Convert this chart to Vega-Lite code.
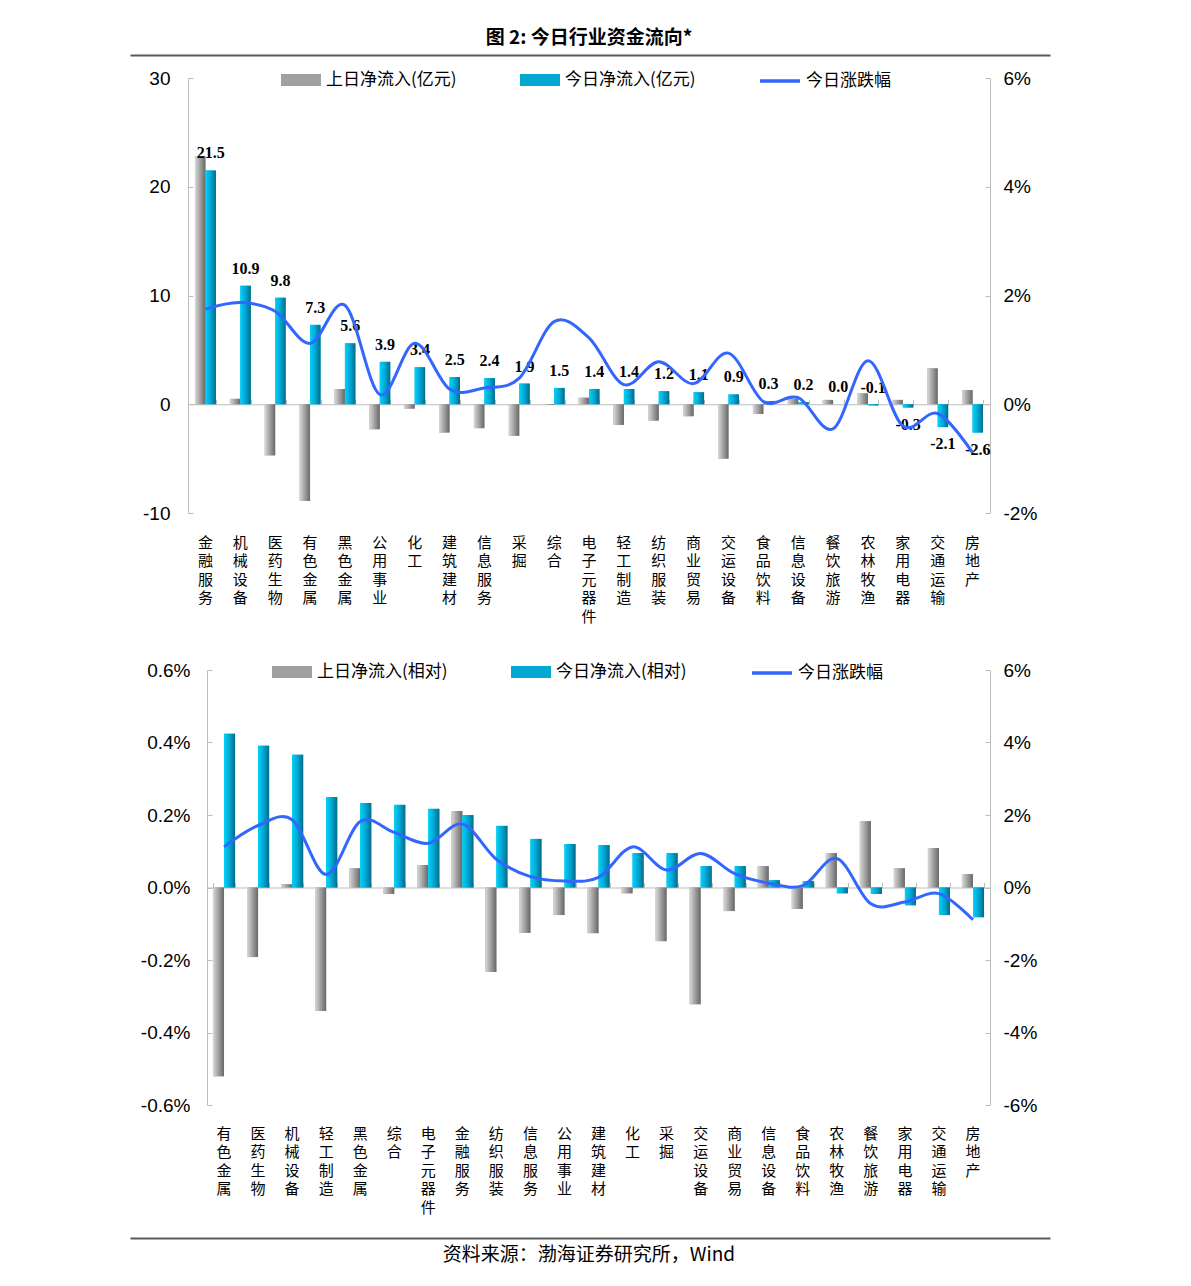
{
  "$schema": "https://vega.github.io/schema/vega-lite/v6.json",
  "background": "white",
  "padding": {"left": 130, "top": 29, "right": 10, "bottom": 10},
  "datasets": {
    "top": [
      {"行业": "金融服务", "上日净流入(亿元)": 22.8, "今日净流入(亿元)": 21.5, "今日涨跌幅": 1.75},
      {"行业": "机械设备", "上日净流入(亿元)": 0.5, "今日净流入(亿元)": 10.9, "今日涨跌幅": 1.87},
      {"行业": "医药生物", "上日净流入(亿元)": -4.7, "今日净流入(亿元)": 9.8, "今日涨跌幅": 1.71},
      {"行业": "有色金属", "上日净流入(亿元)": -8.9, "今日净流入(亿元)": 7.3, "今日涨跌幅": 1.12},
      {"行业": "黑色金属", "上日净流入(亿元)": 1.4, "今日净流入(亿元)": 5.6, "今日涨跌幅": 1.82},
      {"行业": "公用事业", "上日净流入(亿元)": -2.3, "今日净流入(亿元)": 3.9, "今日涨跌幅": 0.18},
      {"行业": "化工", "上日净流入(亿元)": -0.4, "今日净流入(亿元)": 3.4, "今日涨跌幅": 1.12},
      {"行业": "建筑建材", "上日净流入(亿元)": -2.6, "今日净流入(亿元)": 2.5, "今日涨跌幅": 0.28},
      {"行业": "信息服务", "上日净流入(亿元)": -2.2, "今日净流入(亿元)": 2.4, "今日涨跌幅": 0.3},
      {"行业": "采掘", "上日净流入(亿元)": -2.9, "今日净流入(亿元)": 1.9, "今日涨跌幅": 0.48},
      {"行业": "综合", "上日净流入(亿元)": -0.05, "今日净流入(亿元)": 1.5, "今日涨跌幅": 1.52},
      {"行业": "电子元器件", "上日净流入(亿元)": 0.6, "今日净流入(亿元)": 1.4, "今日涨跌幅": 1.22},
      {"行业": "轻工制造", "上日净流入(亿元)": -1.9, "今日净流入(亿元)": 1.4, "今日涨跌幅": 0.36},
      {"行业": "纺织服装", "上日净流入(亿元)": -1.5, "今日净流入(亿元)": 1.2, "今日涨跌幅": 0.78},
      {"行业": "商业贸易", "上日净流入(亿元)": -1.1, "今日净流入(亿元)": 1.1, "今日涨跌幅": 0.38},
      {"行业": "交运设备", "上日净流入(亿元)": -5.0, "今日净流入(亿元)": 0.9, "今日涨跌幅": 0.94},
      {"行业": "食品饮料", "上日净流入(亿元)": -0.9, "今日净流入(亿元)": 0.3, "今日涨跌幅": 0.05},
      {"行业": "信息设备", "上日净流入(亿元)": 0.5, "今日净流入(亿元)": 0.2, "今日涨跌幅": 0.12},
      {"行业": "餐饮旅游", "上日净流入(亿元)": 0.4, "今日净流入(亿元)": 0.0, "今日涨跌幅": -0.45},
      {"行业": "农林牧渔", "上日净流入(亿元)": 1.0, "今日净流入(亿元)": -0.1, "今日涨跌幅": 0.8},
      {"行业": "家用电器", "上日净流入(亿元)": 0.4, "今日净流入(亿元)": -0.3, "今日涨跌幅": -0.4},
      {"行业": "交通运输", "上日净流入(亿元)": 3.3, "今日净流入(亿元)": -2.1, "今日涨跌幅": -0.17},
      {"行业": "房地产", "上日净流入(亿元)": 1.3, "今日净流入(亿元)": -2.6, "今日涨跌幅": -0.89}
    ],
    "bottom": [
      {"行业": "有色金属", "上日净流入(相对)": -0.521, "今日净流入(相对)": 0.424, "今日涨跌幅": 1.12},
      {"行业": "医药生物", "上日净流入(相对)": -0.192, "今日净流入(相对)": 0.391, "今日涨跌幅": 1.71},
      {"行业": "机械设备", "上日净流入(相对)": 0.009, "今日净流入(相对)": 0.366, "今日涨跌幅": 1.87},
      {"行业": "轻工制造", "上日净流入(相对)": -0.341, "今日净流入(相对)": 0.25, "今日涨跌幅": 0.36},
      {"行业": "黑色金属", "上日净流入(相对)": 0.053, "今日净流入(相对)": 0.233, "今日涨跌幅": 1.82},
      {"行业": "综合", "上日净流入(相对)": -0.018, "今日净流入(相对)": 0.228, "今日涨跌幅": 1.52},
      {"行业": "电子元器件", "上日净流入(相对)": 0.062, "今日净流入(相对)": 0.217, "今日涨跌幅": 1.22},
      {"行业": "金融服务", "上日净流入(相对)": 0.211, "今日净流入(相对)": 0.2, "今日涨跌幅": 1.75},
      {"行业": "纺织服装", "上日净流入(相对)": -0.233, "今日净流入(相对)": 0.17, "今日涨跌幅": 0.78},
      {"行业": "信息服务", "上日净流入(相对)": -0.125, "今日净流入(相对)": 0.134, "今日涨跌幅": 0.3},
      {"行业": "公用事业", "上日净流入(相对)": -0.076, "今日净流入(相对)": 0.12, "今日涨跌幅": 0.18},
      {"行业": "建筑建材", "上日净流入(相对)": -0.126, "今日净流入(相对)": 0.117, "今日涨跌幅": 0.28},
      {"行业": "化工", "上日净流入(相对)": -0.016, "今日净流入(相对)": 0.095, "今日涨跌幅": 1.12},
      {"行业": "采掘", "上日净流入(相对)": -0.148, "今日净流入(相对)": 0.095, "今日涨跌幅": 0.48},
      {"行业": "交运设备", "上日净流入(相对)": -0.322, "今日净流入(相对)": 0.059, "今日涨跌幅": 0.94},
      {"行业": "商业贸易", "上日净流入(相对)": -0.065, "今日净流入(相对)": 0.059, "今日涨跌幅": 0.38},
      {"行业": "信息设备", "上日净流入(相对)": 0.059, "今日净流入(相对)": 0.02, "今日涨跌幅": 0.12},
      {"行业": "食品饮料", "上日净流入(相对)": -0.059, "今日净流入(相对)": 0.018, "今日涨跌幅": 0.05},
      {"行业": "农林牧渔", "上日净流入(相对)": 0.095, "今日净流入(相对)": -0.016, "今日涨跌幅": 0.8},
      {"行业": "餐饮旅游", "上日净流入(相对)": 0.183, "今日净流入(相对)": -0.018, "今日涨跌幅": -0.45},
      {"行业": "家用电器", "上日净流入(相对)": 0.053, "今日净流入(相对)": -0.049, "今日涨跌幅": -0.4},
      {"行业": "交通运输", "上日净流入(相对)": 0.109, "今日净流入(相对)": -0.076, "今日涨跌幅": -0.17},
      {"行业": "房地产", "上日净流入(相对)": 0.037, "今日净流入(相对)": -0.082, "今日涨跌幅": -0.89}
    ]
  },
  "vconcat": [
    {
      "width": 802,
      "height": 435,
      "data": {"name": "top"},
      "title": {"text": "图 2:  今日行业资金流向*", "fontWeight": "bold", "offset": 7},
      "layer": [
        {
          "layer": [
            {
              "transform": [{"fold": ["上日净流入(亿元)", "今日净流入(亿元)"], "as": ["series", "value"]}],
              "encoding": {
                "x": {
                  "field": "行业", "type": "nominal", "sort": null,
                  "scale": {"type": "band", "paddingInner": 0.4, "paddingOuter": 0.2},
                  "axis": {"orient": "bottom", "title": null, "domain": false, "ticks": false, "labelAngle": 0, "labelBaseline": "top", "labelAlign": "center", "labelExpr": "split(datum.label, '')", "labelFont": "Noto Sans CJK SC", "labelFontSize": 15, "labelLineHeight": 18.5, "labelPadding": 22}
                },
                "xOffset": {"field": "series", "type": "nominal", "sort": null, "scale": {"domain": ["上日净流入(亿元)", "今日净流入(亿元)"], "paddingInner": 0, "paddingOuter": 0}},
                "y": {
                  "field": "value", "type": "quantitative",
                  "scale": {"domain": [-10, 30], "nice": false, "zero": false},
                  "axis": {"orient": "left", "title": null, "values": [-10, 0, 10, 20, 30], "tickSize": -5, "labelPadding": 23}
                }
              },
              "layer": [
                {
                  "mark": {"type": "bar"},
                  "encoding": {
                    "fill": {
                      "field": "series", "type": "nominal",
                      "scale": {"domain": ["上日净流入(亿元)", "今日净流入(亿元)"], "range": ["#a0a0a0", "#00a8d2"]},
                      "legend": {"title": null, "orient": "none", "legendX": 92, "legendY": -19, "direction": "horizontal", "columnPadding": 62, "labelOffset": 4, "symbolSize": 1600, "padding": 0, "symbolType": "M-1,-0.3L1,-0.3L1,0.3L-1,0.3Z"}
                    }
                  }
                },
                {
                  "mark": {"type": "bar"},
                  "encoding": {
                    "fill": {
                      "condition": {"test": "datum.series === '上日净流入(亿元)'", "value": {"gradient": "linear", "x1": 0, "y1": 0, "x2": 1, "y2": 0, "stops": [{"offset": 0, "color": "#d8d8d8"}, {"offset": 0.5, "color": "#a0a0a0"}, {"offset": 1, "color": "#676767"}]}},
                      "value": {"gradient": "linear", "x1": 0, "y1": 0, "x2": 1, "y2": 0, "stops": [{"offset": 0, "color": "#00d4fc"}, {"offset": 0.5, "color": "#00a6d2"}, {"offset": 1, "color": "#006c8a"}]}
                    }
                  }
                },
                {
                  "transform": [{"filter": "datum.series === '今日净流入(亿元)' && datum.value >= -0.15"}],
                  "mark": {"type": "text", "font": "Liberation Serif", "fontWeight": "bold", "fontSize": 16, "baseline": "middle", "dy": -17, "color": "#000000"},
                  "encoding": {"text": {"field": "value", "type": "quantitative", "format": ".1f"}}
                },
                {
                  "transform": [{"filter": "datum.series === '今日净流入(亿元)' && datum.value < -0.15"}],
                  "mark": {"type": "text", "font": "Liberation Serif", "fontWeight": "bold", "fontSize": 16, "baseline": "middle", "dy": 17, "color": "#000000"},
                  "encoding": {"text": {"field": "value", "type": "quantitative", "format": ".1f"}}
                }
              ]
            },
            {
              "mark": {"type": "line", "interpolate": "cardinal", "strokeWidth": 3},
              "encoding": {
                "x": {
                  "field": "行业", "type": "nominal", "sort": null,
                  "scale": {"type": "band", "paddingInner": 0.4, "paddingOuter": 0.2},
                  "axis": {"orient": "top", "offset": -326.25, "title": null, "labels": false, "tickSize": 5, "tickBand": "extent"}
                },
                "y": {
                  "field": "今日涨跌幅", "type": "quantitative",
                  "scale": {"domain": [-2, 6], "nice": false, "zero": false},
                  "axis": {"orient": "right", "title": null, "values": [-2, 0, 2, 4, 6], "labelExpr": "datum.value + '%'", "tickSize": -5, "labelPadding": 18}
                },
                "stroke": {
                  "datum": "今日涨跌幅", "type": "nominal",
                  "scale": {"range": ["#3366ff"]},
                  "legend": {"title": null, "orient": "none", "legendX": 570, "legendY": -19, "symbolType": "stroke", "symbolSize": 1600, "symbolStrokeWidth": 3.5, "labelOffset": 4, "padding": 0}
                }
              }
            }
          ],
          "resolve": {"scale": {"y": "independent"}, "axis": {"x": "independent"}}
        },
        {
          "data": {"values": [{}]},
          "mark": {"type": "rule", "opacity": 0},
          "encoding": {
            "x": {
              "datum": 0, "type": "quantitative",
              "scale": {"domain": [0, 1], "range": [-58, 862]},
              "axis": {"orient": "top", "offset": 23, "title": null, "labels": false, "ticks": false, "domainColor": "#5a5a5a", "domainWidth": 2}
            }
          }
        }
      ],
      "resolve": {"scale": {"x": "independent"}}
    },
    {
      "width": 802,
      "height": 435,
      "data": {"name": "bottom"},
      "title": {"text": "资料来源：渤海证券研究所，Wind", "orient": "bottom", "fontWeight": "normal", "offset": 8},
      "layer": [
        {
          "layer": [
            {
              "transform": [{"fold": ["上日净流入(相对)", "今日净流入(相对)"], "as": ["series", "value"]}],
              "encoding": {
                "x": {
                  "field": "行业", "type": "nominal", "sort": null,
                  "scale": {"type": "band", "paddingInner": 0.35, "paddingOuter": 0.175, "range": [19, 802]},
                  "axis": {"orient": "bottom", "title": null, "domain": false, "ticks": false, "labelAngle": 0, "labelBaseline": "top", "labelAlign": "center", "labelExpr": "split(datum.label, '')", "labelFont": "Noto Sans CJK SC", "labelFontSize": 15, "labelLineHeight": 18.5, "labelPadding": 21}
                },
                "xOffset": {"field": "series", "type": "nominal", "sort": null, "scale": {"domain": ["上日净流入(相对)", "今日净流入(相对)"], "paddingInner": 0, "paddingOuter": 0}},
                "y": {
                  "field": "value", "type": "quantitative",
                  "scale": {"domain": [-0.6, 0.6], "nice": false, "zero": false},
                  "axis": {"orient": "left", "offset": -19, "title": null, "values": [-0.6, -0.4, -0.2, 0, 0.2, 0.4, 0.6], "format": ".1f", "labelExpr": "datum.label + '%'", "tickSize": -5, "labelPadding": 22}
                }
              },
              "layer": [
                {
                  "mark": {"type": "bar"},
                  "encoding": {
                    "fill": {
                      "field": "series", "type": "nominal",
                      "scale": {"domain": ["上日净流入(相对)", "今日净流入(相对)"], "range": ["#a0a0a0", "#00a8d2"]},
                      "legend": {"title": null, "orient": "none", "legendX": 83, "legendY": -19, "direction": "horizontal", "columnPadding": 62, "labelOffset": 4, "symbolSize": 1600, "padding": 0, "symbolType": "M-1,-0.3L1,-0.3L1,0.3L-1,0.3Z"}
                    }
                  }
                },
                {
                  "mark": {"type": "bar"},
                  "encoding": {
                    "fill": {
                      "condition": {"test": "datum.series === '上日净流入(相对)'", "value": {"gradient": "linear", "x1": 0, "y1": 0, "x2": 1, "y2": 0, "stops": [{"offset": 0, "color": "#d8d8d8"}, {"offset": 0.5, "color": "#a0a0a0"}, {"offset": 1, "color": "#676767"}]}},
                      "value": {"gradient": "linear", "x1": 0, "y1": 0, "x2": 1, "y2": 0, "stops": [{"offset": 0, "color": "#00d4fc"}, {"offset": 0.5, "color": "#00a6d2"}, {"offset": 1, "color": "#006c8a"}]}
                    }
                  }
                }
              ]
            },
            {
              "mark": {"type": "line", "interpolate": "cardinal", "strokeWidth": 3},
              "encoding": {
                "x": {
                  "field": "行业", "type": "nominal", "sort": null,
                  "scale": {"type": "band", "paddingInner": 0.35, "paddingOuter": 0.175, "range": [19, 802]},
                  "axis": {"orient": "top", "offset": -217.5, "title": null, "labels": false, "tickSize": 5, "tickBand": "extent"}
                },
                "y": {
                  "field": "今日涨跌幅", "type": "quantitative",
                  "scale": {"domain": [-6, 6], "nice": false, "zero": false},
                  "axis": {"orient": "right", "title": null, "values": [-6, -4, -2, 0, 2, 4, 6], "labelExpr": "datum.value + '%'", "tickSize": -5, "labelPadding": 18}
                },
                "stroke": {
                  "datum": "今日涨跌幅", "type": "nominal",
                  "scale": {"range": ["#3366ff"]},
                  "legend": {"title": null, "orient": "none", "legendX": 562, "legendY": -19, "symbolType": "stroke", "symbolSize": 1600, "symbolStrokeWidth": 3.5, "labelOffset": 4, "padding": 0}
                }
              }
            }
          ],
          "resolve": {"scale": {"y": "independent"}, "axis": {"x": "independent"}}
        },
        {
          "data": {"values": [{}]},
          "mark": {"type": "rule", "opacity": 0},
          "encoding": {
            "x": {
              "datum": 0, "type": "quantitative",
              "scale": {"domain": [0, 1], "range": [-58, 862]},
              "axis": {"orient": "bottom", "offset": 133, "title": null, "labels": false, "ticks": false, "domainColor": "#5a5a5a", "domainWidth": 2}
            }
          }
        }
      ],
      "resolve": {"scale": {"x": "independent"}}
    }
  ],
  "spacing": 27,
  "resolve": {"scale": {"xOffset": "independent", "stroke": "independent", "fill": "independent"}, "legend": {"stroke": "independent", "fill": "independent"}},
  "config": {
    "locale": {"number": {"decimal": ".", "thousands": ",", "grouping": [3], "currency": ["$", ""], "minus": "-"}},
    "view": {"stroke": null},
    "axis": {"labelFont": "Liberation Sans", "labelFontSize": 19, "labelColor": "#000000", "grid": false, "domainColor": "#bdbdbd", "tickColor": "#bdbdbd"},
    "legend": {"labelFont": "Noto Sans CJK SC", "labelFontSize": 17, "labelColor": "#000000"},
    "title": {"font": "Noto Sans CJK SC", "fontSize": 19, "color": "#000000", "anchor": "middle", "frame": "group"}
  }
}
